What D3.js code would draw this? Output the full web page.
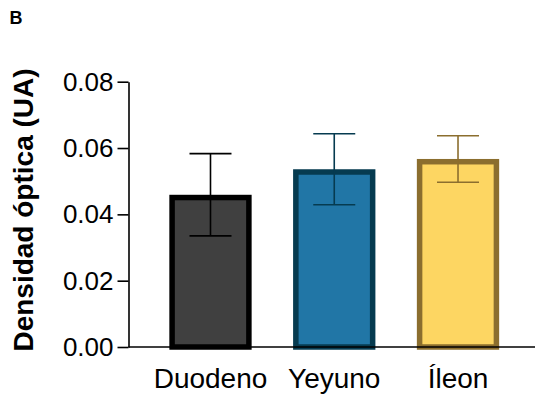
<!DOCTYPE html>
<html><head><meta charset="utf-8">
<script src="https://cdn.jsdelivr.net/npm/d3@7"></script>
<style>body{margin:0;background:#fff}svg{display:block}text{font-family:"Liberation Sans",Arial,sans-serif}</style>
</head><body>
<svg id="c" width="535" height="396"></svg>
<script>
const categories = ["Duodeno", "Yeyuno", "Íleon"];
const means = [0.0459, 0.0536, 0.0567];
const errors = [0.0124, 0.0107, 0.0070];
const fills = ["#404040", "#2176a6", "#fdd662"];
const strokes = ["#000000", "#063b50", "#8b6e2e"];
const yTicks = [0, 0.02, 0.04, 0.06, 0.08];
const yTickLabels = ["0.00", "0.02", "0.04", "0.06", "0.08"];

const svg = d3.select("#c");
const y = d3.scaleLinear().domain([0, 0.08]).range([347, 81.7]);
const x = d3.scaleBand().domain(categories).range([128.5, 540]).paddingInner(0.335).paddingOuter(0.33);
const sw = 5.5;

// bars
const g = svg.append("g");
categories.forEach((c, i) => {
  const x0 = x(c), bw = x.bandwidth();
  g.append("rect")
    .attr("x", x0 + sw / 2).attr("y", y(means[i]) + sw / 2)
    .attr("width", bw - sw).attr("height", y(0) - y(means[i]) - sw / 2)
    .attr("fill", fills[i]).attr("stroke", strokes[i]).attr("stroke-width", sw);
  const cx = x0 + bw / 2, hw = 21;
  const eg = g.append("g").attr("stroke", strokes[i]).attr("stroke-width", 1.6).attr("fill", "none");
  eg.append("line").attr("x1", cx).attr("x2", cx).attr("y1", y(means[i] + errors[i])).attr("y2", y(means[i] - errors[i]));
  eg.append("line").attr("x1", cx - hw).attr("x2", cx + hw).attr("y1", y(means[i] + errors[i])).attr("y2", y(means[i] + errors[i]));
  eg.append("line").attr("x1", cx - hw).attr("x2", cx + hw).attr("y1", y(means[i] - errors[i])).attr("y2", y(means[i] - errors[i]));
});

// y axis
const ya = svg.append("g").attr("transform", "translate(128.5,0)")
  .call(d3.axisLeft(y).tickValues(yTicks).tickFormat((d, i) => yTickLabels[i]).tickSize(11).tickPadding(4).tickSizeOuter(0));
ya.select(".domain").attr("stroke", "#000").attr("stroke-width", 1.6);
ya.selectAll(".tick line").attr("stroke", "#000").attr("stroke-width", 1.6);
ya.selectAll(".tick text").attr("font-size", 26).attr("fill", "#000").style("font-family", "'Liberation Sans', Arial, sans-serif");

// x axis
const xa = svg.append("g").attr("transform", "translate(0,347)")
  .call(d3.axisBottom(x).tickSize(0).tickPadding(20));
xa.select(".domain").remove();
xa.selectAll(".tick text").attr("font-size", 28).attr("fill", "#000").attr("dy", "0.71em").attr("y", 21).style("font-family", "'Liberation Sans', Arial, sans-serif");
svg.append("line").attr("x1", 128.5).attr("x2", 535).attr("y1", y(0)).attr("y2", y(0)).attr("stroke", "#000").attr("stroke-width", 1.6);

// y title
svg.append("text").attr("transform", "translate(32.5,210) rotate(-90)")
  .attr("text-anchor", "middle").attr("font-size", 28).attr("font-weight", "bold").text("Densidad óptica (UA)");

// panel letter
svg.append("text").attr("x", 9.5).attr("y", 24).style("font-size", "18px").attr("font-weight", "bold").text("B");
</script>
</body></html>
